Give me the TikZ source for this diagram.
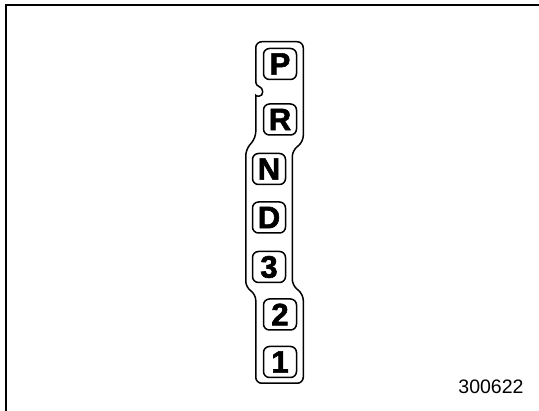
\documentclass[tikz,border=0pt]{standalone}
\usepackage{fontspec}
\setmainfont{Liberation Sans}
\newfontfamily\gearfont[FakeBold=2]{Liberation Sans}
\usetikzlibrary{positioning,calc}

\begin{document}
\begin{tikzpicture}
          [x=1pt,y=-1pt,node distance=16pt,line width=1.5pt]
          \tikzstyle{gear}=[draw,rounded corners=6pt,minimum width=33pt,minimum height=31pt,inner sep=0pt,font=\gearfont\bfseries\fontsize{31}{31}\selectfont]
          \tikzstyle{gate}=[rounded corners=6pt]

          \useasboundingbox (0,0) rectangle (539,411);
          \draw[line width=2pt] (6,411) -- (6,5) -- (539,5);

          \node[gear] (P) at (280,64) {P};
          \node[gear] (R) [below=23pt of P] {R};
          \node[gear] (N) [below=17pt of R,xshift=-11pt] {N};
          \node[gear] (D) [below=16pt of N] {D};
          \node[gear] (3) [below=17pt of D] {3};
          \node[gear] (2) [below=15pt of 3,xshift=11pt] {2};
          \node[gear] (1) [below=15pt of 2] {1};

          \coordinate (notch) at ($(P.south west)!.5!(R.north west)$);

          \draw
          (notch) .. controls +(0,-6) and +(0,5) .. ([xshift=-7pt,yshift=-2pt]P.south west)
          [gate] -- ([xshift=-7pt,yshift=6pt]P.north west)
          -- ([xshift=6pt,yshift=6pt]P.north east)
          -- ([xshift=6pt,yshift=-6pt]R.south east)
          -- ([xshift=6pt,yshift=2pt]N.north east)
          -- ([xshift=6pt,yshift=-2pt]3.south east)
          -- ([xshift=6pt,yshift=4pt]2.north east)
          -- ([xshift=6pt,yshift=-5pt]1.south east)
          -- ([xshift=-7pt,yshift=-5pt]1.south west)
          -- ([xshift=-7pt,yshift=4pt]2.north west)
          -- ([xshift=-6pt,yshift=-4pt]3.south west)
          -- ([xshift=-6pt,yshift=3pt]N.north west)
          -- ([xshift=-7pt,yshift=-2pt]R.south west)
          -- ([xshift=-7pt,yshift=2pt]R.north west) [sharp corners]
          .. controls +(0,-5) and +(0,6) .. (notch);

          \node[font=\fontsize{19.5}{19.5}\selectfont] (code) at (491,386.5) {300622};
        \end{tikzpicture}
\end{document}
